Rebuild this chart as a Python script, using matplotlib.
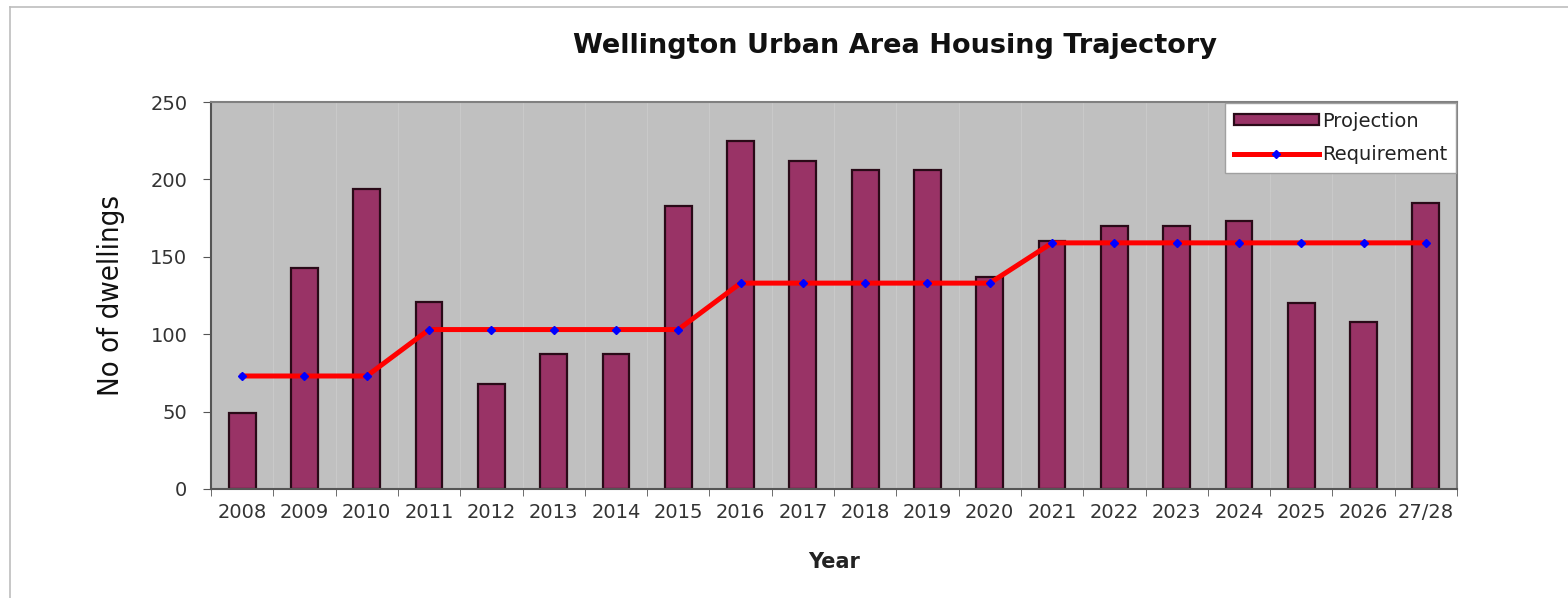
import numpy as np
import matplotlib.pyplot as plt
from matplotlib.lines import Line2D

years = ['2008', '2009', '2010', '2011', '2012', '2013', '2014', '2015', '2016', '2017',
         '2018', '2019', '2020', '2021', '2022', '2023', '2024', '2025', '2026', '27/28']
projection = [49, 143, 194, 121, 68, 87, 87, 183, 225, 212,
              206, 206, 137, 160, 170, 170, 173, 120, 108, 185]
requirement = [73, 73, 73, 103, 103, 103, 103, 103, 133, 133,
               133, 133, 133, 159, 159, 159, 159, 159, 159, 159]

fig = plt.figure(figsize=(15.68, 5.98), dpi=100)
ax = fig.add_axes([211 / 1568, 1 - 489 / 598, 1246 / 1568, 387 / 598])
ax.set_facecolor('#c0c0c0')

x = np.arange(len(years))

# faint separators between categories
for b in x[1:] - 0.5:
    ax.axvline(b, color='#c9c9c9', lw=0.8, zorder=0)

ax.bar(x, projection, width=0.43, color='#993366', edgecolor='#2a0a18',
       linewidth=1.6, label='Projection', zorder=2)
ax.plot(x, requirement, color='#ff0000', lw=3.6, marker='D', markersize=4.5,
        markerfacecolor='#0000ff', markeredgecolor='#0000ff', label='Requirement', zorder=3)

ax.set_xlim(-0.5, len(years) - 0.5)
ax.set_ylim(0, 250)
ax.set_yticks(range(0, 251, 50))
ax.set_xticks(x)
ax.set_xticklabels(years, fontsize=14, color='#333333')
ax.set_xticks(np.arange(-0.5, len(years), 1), minor=True)
ax.tick_params(axis='x', which='major', length=0, pad=10)
ax.tick_params(axis='x', which='minor', length=5, direction='out', color='#555555')
ax.tick_params(axis='y', length=6, direction='out', color='#555555', labelsize=14,
               labelcolor='#333333', pad=11)
for s in ax.spines.values():
    s.set_color('#808080')
    s.set_linewidth(1.5)
ax.spines['left'].set_color('#555555')
ax.spines['bottom'].set_color('#555555')

ax.set_xlabel('Year', fontsize=15, fontweight='bold', color='#222222', labelpad=22)
ax.set_ylabel('No of dwellings', fontsize=21, fontstretch='condensed', color='#111111',
              labelpad=18)

fig.text(895 / 1568, 1 - 46 / 598, 'Wellington Urban Area Housing Trajectory',
         ha='center', va='center', fontsize=19.5, fontweight='bold', color='#111111')

handles = [plt.Rectangle((0, 0), 1, 1, facecolor='#993366', edgecolor='#2a0a18', linewidth=1.6),
           Line2D([], [], color='#ff0000', lw=3.6, marker='D', markersize=4.5,
                  markerfacecolor='#0000ff', markeredgecolor='#0000ff')]
leg = ax.legend(handles, ['Projection', 'Requirement'], loc='upper right',
                bbox_to_anchor=(1.0, 1.0), fontsize=14, frameon=True, fancybox=False,
                borderaxespad=0.05, handlelength=4.4, handleheight=0.5, handletextpad=0.15,
                labelspacing=0.75, borderpad=0.45)
for t in leg.get_texts():
    t.set_color('#222222')
leg.get_frame().set_facecolor('white')
leg.get_frame().set_edgecolor('#a0a0a0')
leg.get_frame().set_alpha(1)

# outer chart frame
fig.add_artist(Line2D([10 / 1568, 10 / 1568], [0, 1 - 7 / 598], color='#bdbdbd', lw=1.2,
                      transform=fig.transFigure))
fig.add_artist(Line2D([10 / 1568, 1], [1 - 7 / 598, 1 - 7 / 598], color='#bdbdbd', lw=1.2,
                      transform=fig.transFigure))

fig.savefig('out.png', dpi=100)
